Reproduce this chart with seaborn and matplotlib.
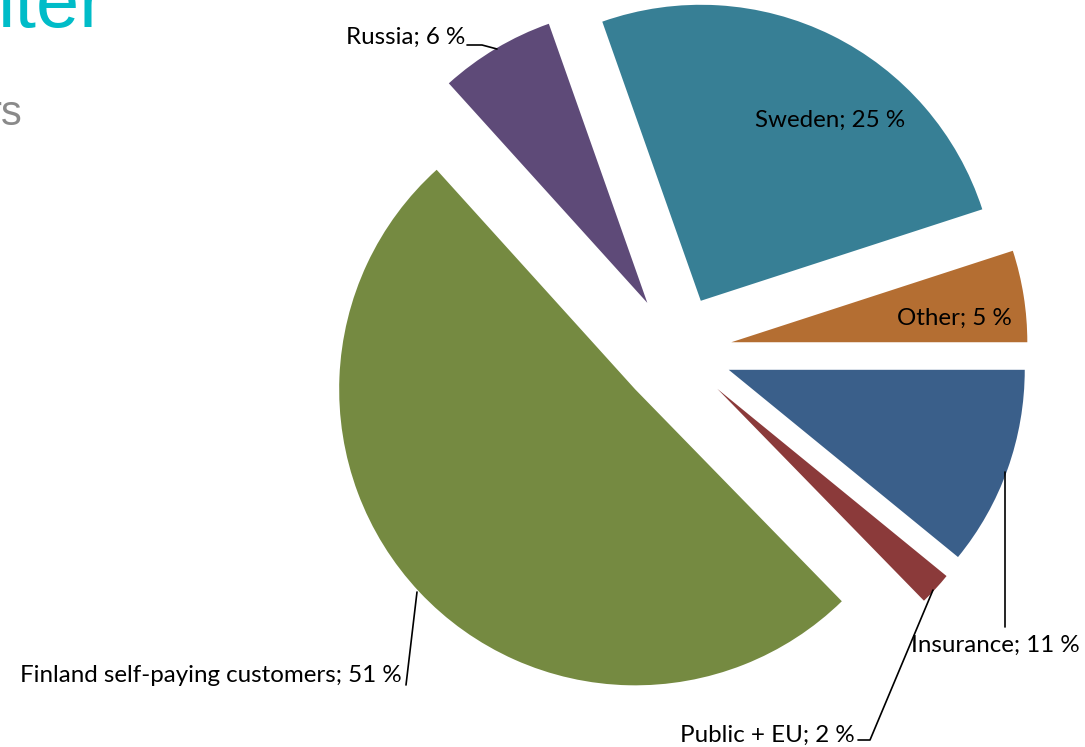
import matplotlib
matplotlib.use("Agg")
import matplotlib.pyplot as plt
import seaborn as sns

# ---- data (counter-clockwise from 3 o'clock) ----
categories = ["Other", "Sweden", "Russia", "Finland self-paying customers", "Public + EU", "Insurance"]
shares = [5.0, 25.4, 6.3, 50.6, 1.8, 10.9]
colors = ["#B46E32", "#377F95", "#5E4A78", "#758A41", "#8B3A3A", "#3A5F8A"]
label_texts = [f"{c}; {round(v)} %" for c, v in zip(categories, shares)]

sns.set_theme(style="white")
plt.rcParams["font.family"] = ["Lato", "DejaVu Sans"]

W, H = 1085, 747
fig = plt.figure(figsize=(W / 100, H / 100), dpi=100)
ax = fig.add_axes([0, 0, 1, 1])

def Y(y):
    return H - y

R = 296
ax.pie(shares, colors=colors, startangle=0, counterclock=True,
       explode=[56] * len(shares), radius=R, center=(676, Y(351)),
       wedgeprops=dict(linewidth=0), frame=True)
ax.set_xlim(0, W)
ax.set_ylim(0, H)
ax.set_aspect("equal")
ax.axis("off")

fs = 17.4
lab = dict(zip(categories, label_texts))
# inside labels
ax.text(830, Y(120), lab["Sweden"], ha="center", va="center", fontsize=fs, color="black")
ax.text(954, Y(318), lab["Other"], ha="center", va="center", fontsize=fs, color="black")
# outside labels with leader lines
ax.text(465, Y(37), lab["Russia"], ha="right", va="center", fontsize=fs, color="black")
ax.plot([467, 482, 497], [Y(45), Y(45), Y(49)], color="black", lw=1.2)

ax.text(1080, Y(645), lab["Insurance"], ha="right", va="center", fontsize=fs, color="black")
ax.plot([1005, 1005], [Y(472), Y(627)], color="black", lw=1.2)

ax.text(855, Y(735), lab["Public + EU"], ha="right", va="center", fontsize=fs, color="black")
ax.plot([858, 870, 933], [Y(740), Y(740), Y(590)], color="black", lw=1.2)

ax.text(402, Y(675), lab["Finland self-paying customers"], ha="right", va="center", fontsize=fs, color="black")
ax.plot([406, 417], [Y(685), Y(592)], color="black", lw=1.2)

# cut-off slide text
ax.text(106, Y(27), "iter", ha="right", va="baseline", fontsize=56, color="#00BCC8",
        family=["Liberation Sans", "DejaVu Sans"])
ax.text(22, Y(125), "rs", ha="right", va="baseline", fontsize=30, color="#8A8A8A",
        family=["Liberation Sans", "DejaVu Sans"])

fig.savefig("out.png", dpi=100)
